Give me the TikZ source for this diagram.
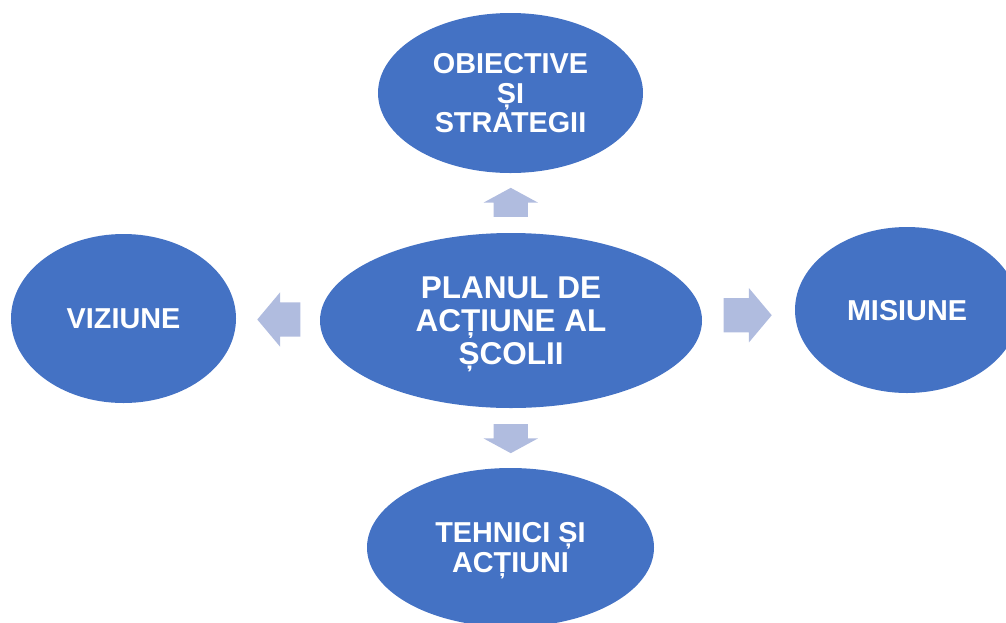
\documentclass[tikz,border=0pt]{standalone}
\usepackage{fontspec}
\setmainfont{Liberation Sans}
\usepackage{tikz}
\usepackage{xcolor}
\usetikzlibrary{calc}
\usetikzlibrary{shapes.geometric}
\usetikzlibrary{shapes.arrows}
\definecolor{ellipsecolor}{HTML}{4472C4}
\definecolor{arrowcolor}{HTML}{B0BCDF}
\colorlet{textcolor}{white}
\tikzstyle{ellipsebox} = [
    ellipse,
    fill=ellipsecolor,
    text=textcolor,
    font=\bfseries\fontsize{28.8}{29.5}\selectfont,
    align=center,
    inner sep=0pt,
    text depth=0pt
    ]
\tikzstyle{bigellipse} = [
    ellipsebox,
    font=\bfseries\fontsize{31.5}{33}\selectfont
    ]
\tikzstyle{blockarrow} = [
    single arrow,
    fill=arrowcolor,
    inner xsep=0pt,
    inner ysep=17pt,
    single arrow head extend=10pt,
    single arrow tip angle=100
    ]

\begin{document}
\begin{tikzpicture}[x=1pt,y=-1pt]
\useasboundingbox (0,0) rectangle (1006,622);

\node [bigellipse, minimum width=382pt, minimum height=175pt] (plan) at (511,320.5)
    {PLANUL DE\\ACȚIUNE AL\\ȘCOLII};
\node [ellipsebox, minimum width=265pt, minimum height=160pt] (obiective) at (510.5,93)
    {OBIECTIVE\\ȘI\\STRATEGII};
\node [ellipsebox, minimum width=225pt, minimum height=169pt] (viziune) at (123.5,318.5)
    {VIZIUNE};
\node [ellipsebox, minimum width=224pt, minimum height=166pt] (misiune) at (907,310)
    {MISIUNE};
\node [ellipsebox, minimum width=287pt, minimum height=159pt] (tehnici) at (510.5,547.5)
    {TEHNICI ȘI\\ACȚIUNI};

% arrows from the plan outwards
\node [blockarrow, minimum height=48pt, xshift=-8pt] (toright)
    at ($(plan.east)!0.5!(misiune.west)$) {};
\node [blockarrow, minimum height=43pt, rotate=180, xshift=-8pt] (toleft)
    at ($(plan.west)!0.5!(viziune.east)$) {};
\node [blockarrow, minimum height=29pt, rotate=90, single arrow tip angle=123, xshift=-4pt] (toup)
    at ($(plan.north)!0.5!(obiective.south)$) {};
\node [blockarrow, minimum height=29pt, rotate=270, single arrow tip angle=123, xshift=-4pt] (todown)
    at ($(plan.south)!0.5!(tehnici.north)$) {};
\end{tikzpicture}
\end{document}
